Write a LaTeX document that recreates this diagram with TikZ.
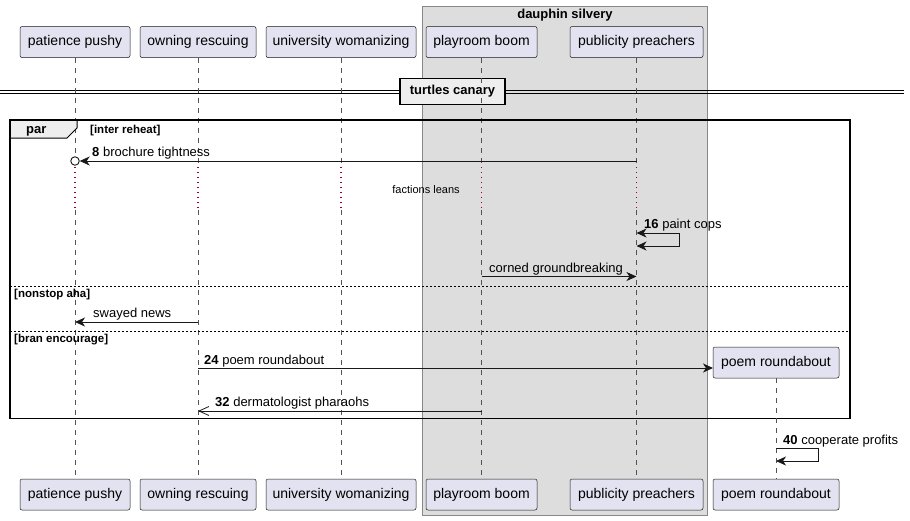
\documentclass[tikz,border=0pt]{standalone}
\usepackage{fontspec}
\setmainfont{Liberation Sans}
\usetikzlibrary{arrows.meta}
\definecolor{partfill}{HTML}{E2E2F0}
\definecolor{partline}{HTML}{181818}
\definecolor{boxfill}{HTML}{DDDDDD}
\definecolor{boxline}{HTML}{888888}
\definecolor{tabfill}{HTML}{EEEEEE}
\definecolor{delayline}{HTML}{990033}
\tikzset{participant/.style={draw=partline, fill=partfill, rounded corners=2pt, line width=0.5pt, minimum height=31pt, inner sep=0pt, font=\fontsize{14}{16}\selectfont}}
\tikzset{lifeline/.style={draw=partline!75, dash pattern=on 5pt off 5pt, line width=0.6pt}}
\tikzset{delay/.style={draw=delayline, dash pattern=on 1.3pt off 3.7pt, line width=1.3pt}}
\tikzset{message/.style={draw=partline, line width=0.8pt, -{Stealth[length=10pt,width=9pt,inset=3pt]}}}
\tikzset{asyncmsg/.style={draw=partline, line width=0.8pt, -{Straight Barb[length=10pt,width=9pt]}}}
\tikzset{msglabel/.style={anchor=base west, inner sep=0pt, font=\fontsize{13}{15}\selectfont}}
\tikzset{guard/.style={anchor=base west, inner sep=0pt, font=\fontsize{11.5}{13}\selectfont\bfseries}}
\tikzset{separator/.style={draw=black, dash pattern=on 2pt off 2pt, line width=0.8pt}}

\begin{document}
\begin{tikzpicture}[x=1pt,y=-1pt]
	\useasboundingbox (0,0) rectangle (910,520);

	% Box
	\node[draw=boxline, fill=boxfill, line width=0.8pt, minimum width=285pt, minimum height=509pt, inner sep=0pt] (silvery) at (564.5,260.5) {};
	\node[anchor=base, inner sep=0pt, font=\fontsize{13}{15}\selectfont\bfseries] (silvery title) at (565,18.5) {dauphin silvery};

	% Divider
	\coordinate (div west up) at (0,90);		\coordinate (div east up) at (904,90);
	\coordinate (div west down) at (0,93.5);	\coordinate (div east down) at (904,93.5);
	\draw[line width=0.9pt] (div west up) -- (div east up);
	\draw[line width=0.9pt] (div west down) -- (div east down);
	\node[draw=black, fill=tabfill, line width=1.6pt, minimum width=105pt, minimum height=26pt, inner sep=0pt, font=\fontsize{13}{15}\selectfont\bfseries] (canary) at (452.5,91.5) {turtles canary};

	% Participants
	\node[participant, minimum width=110pt] (pp top) at (75,42) {patience pushy};
	\node[participant, minimum width=116pt] (or top) at (198,42) {owning rescuing};
	\node[participant, minimum width=150pt] (uw top) at (341,42) {university womanizing};
	\node[participant, minimum width=111pt] (pb top) at (481.5,42) {playroom boom};
	\node[participant, minimum width=133pt] (pr top) at (636.5,42) {publicity preachers};

	\node[participant, minimum width=110pt] (pp bot) at (75,494.5) {patience pushy};
	\node[participant, minimum width=116pt] (or bot) at (198,494.5) {owning rescuing};
	\node[participant, minimum width=150pt] (uw bot) at (341,494.5) {university womanizing};
	\node[participant, minimum width=111pt] (pb bot) at (481.5,494.5) {playroom boom};
	\node[participant, minimum width=133pt] (pr bot) at (636.5,494.5) {publicity preachers};
	\node[participant, minimum width=126pt] (pm bot) at (776,494.5) {poem roundabout};

	% Delay coordinates
	\coordinate (pp wait) at (75,167);		\coordinate (pp go) at (75,210);
	\coordinate (or wait) at (198,167);		\coordinate (or go) at (198,210);
	\coordinate (uw wait) at (341,167);		\coordinate (uw go) at (341,210);
	\coordinate (pb wait) at (481.5,167);	\coordinate (pb go) at (481.5,210);
	\coordinate (pr wait) at (636.5,167);	\coordinate (pr go) at (636.5,210);

	% Lifelines
	\draw[lifeline] (pp top) -- (pp wait);	\draw[delay] (pp wait) -- (pp go);	\draw[lifeline] (pp go) -- (pp bot);
	\draw[lifeline] (or top) -- (or wait);	\draw[delay] (or wait) -- (or go);	\draw[lifeline] (or go) -- (or bot);
	\draw[lifeline] (uw top) -- (uw wait);	\draw[delay] (uw wait) -- (uw go);	\draw[lifeline] (uw go) -- (uw bot);
	\draw[lifeline] (pb top) -- (pb wait);	\draw[delay] (pb wait) -- (pb go);	\draw[lifeline] (pb go) -- (pb bot);
	\draw[lifeline] (pr top) -- (pr wait);	\draw[delay] (pr wait) -- (pr go);	\draw[lifeline] (pr go) -- (pr bot);

	\node[anchor=base, inner sep=0pt, font=\fontsize{11}{13}\selectfont] (leans) at (426,193) {factions leans};

	% Par frame
	\coordinate (par nw) at (10,120);	\coordinate (par se) at (850,418.5);
	\draw[fill=tabfill, line width=1pt] (10,120) -- (77,120) -- (77,128) -- (67,138) -- (10,138) -- cycle;
	\draw[line width=1.6pt] (par nw) rectangle (par se);
	\node[anchor=base west, inner sep=0pt, font=\fontsize{13}{15}\selectfont\bfseries] (par) at (26,133.5) {par};
	\node[guard] (g1) at (90,133.5) {[inter reheat]};

	\coordinate (sep1 west) at (10,286);	\coordinate (sep1 east) at (850,286);
	\coordinate (sep2 west) at (10,331);	\coordinate (sep2 east) at (850,331);
	\draw[separator] (sep1 west) -- (sep1 east);
	\draw[separator] (sep2 west) -- (sep2 east);
	\node[guard] (g2) at (14,297) {[nonstop aha]};
	\node[guard] (g3) at (14,342.5) {[bran encourage]};

	% Messages
	\node[draw=partline, fill=white, circle, line width=0.9pt, minimum size=8.5pt, inner sep=0pt] (pp8) at (75,161) {};
	\coordinate (pr8) at (636.5,161);
	\draw[message] (pr8) -- (pp8);
	\node[msglabel] (m8) at (92,156) {\textbf{8} brochure tightness};

	\coordinate (pr16a) at (636.5,233);	\coordinate (pr16b) at (636.5,246);
	\draw[message, {Stealth[length=10pt,width=9pt,inset=3pt]}-{Stealth[length=10pt,width=9pt,inset=3pt]}] (pr16a) -- ++(42.5,0) |- (pr16b);
	\node[msglabel] (m16) at (644,228) {\textbf{16} paint cops};

	\coordinate (pb20) at (481.5,276.5);	\coordinate (pr20) at (636.5,276.5);
	\draw[message] (pb20) -- (pr20);
	\node[msglabel] (m20) at (489,272) {corned groundbreaking};

	\coordinate (or22) at (198,322);	\coordinate (pp22) at (75,322);
	\draw[message] (or22) -- (pp22);
	\node[msglabel] (m22) at (93,317.5) {swayed news};

	\node[participant, minimum width=126pt] (pm top) at (776,362.5) {poem roundabout};
	\draw[lifeline] (pm top) -- (pm bot);
	\coordinate (or24) at (198,368);	\coordinate (pm24) at (713,368);
	\draw[message] (or24) -- (pm24);
	\node[msglabel] (m24) at (204,364) {\textbf{24} poem roundabout};

	\coordinate (pb32) at (481.5,411);	\coordinate (or32) at (198,411);
	\draw[asyncmsg] (pb32) -- (or32);
	\node[msglabel] (m32) at (215,406.5) {\textbf{32} dermatologist pharaohs};

	\coordinate (pm40a) at (776,448);	\coordinate (pm40b) at (776,461);
	\draw[message] (pm40a) -- ++(42,0) |- (pm40b);
	\node[msglabel] (m40) at (783,444) {\textbf{40} cooperate profits};

\end{tikzpicture}
\end{document}
